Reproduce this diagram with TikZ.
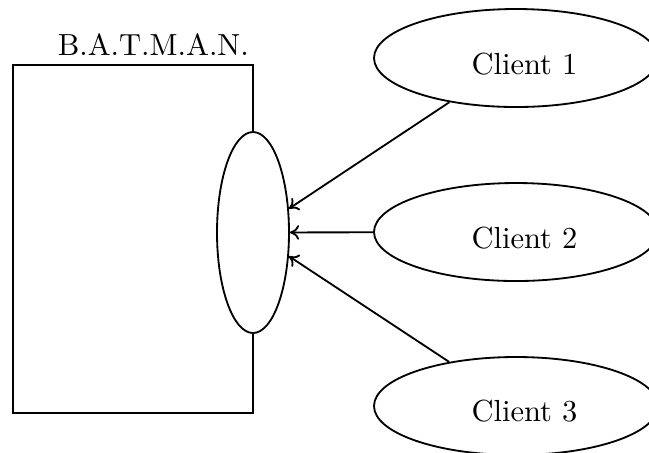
\documentclass[tikz,border=0pt]{standalone}
\usetikzlibrary{shapes.geometric,arrows.meta}
\begin{document}
\begin{tikzpicture}[x=0.3279pt,y=-0.3279pt,line width=0.6pt,
  client/.style={draw,ellipse,inner sep=0pt,minimum width=284*0.3279pt,minimum height=98*0.3279pt},
  hub/.style={draw,ellipse,fill=white,inner sep=0pt,minimum width=72*0.3279pt,minimum height=201*0.3279pt},
  lbl/.style={anchor=base,inner sep=0pt},
  link/.style={-{To[length=3pt,width=4.8pt]}}]
\useasboundingbox (0,0) rectangle (649,452);
\clip (0,0) rectangle (649,452);
\draw (13,65) rectangle (253,413);
\node[lbl] (title) at (153.3,55.7) {B.A.T.M.A.N.};
\node[hub] (m) at (253,232.5) {};
\node[client] (c1) at (516,58) {};
\node[client] (c2) at (516,232) {};
\node[client] (c3) at (516,406) {};
\node[lbl] (t1) at (524.5,74.3) {Client 1};
\node[lbl] (t2) at (524.5,248) {Client 2};
\node[lbl] (t3) at (524.5,421.7) {Client 3};
\draw[link] (c1) -- (m);
\draw[link] (c2) -- (m);
\draw[link] (c3) -- (m);
\end{tikzpicture}
\end{document}
